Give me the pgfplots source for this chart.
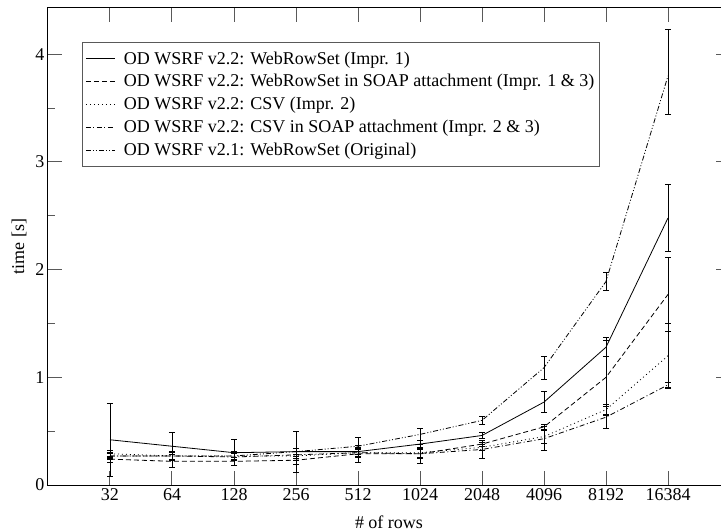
\documentclass[border=0pt]{standalone}
\usepackage{pgfplots}
\pgfplotsset{compat=1.18}
\usepackage{pgfplotstable}
\usepackage{fontspec}
\setmainfont{Liberation Serif}

\pgfplotstableread{
x y ep em
0 0.42 0.34 0.34
1 0.36 0.13 0.13
2 0.30 0.12 0.12
3 0.31 0.19 0.19
4 0.31 0.04 0.04
5 0.38 0.03 0.03
6 0.46 0.03 0.03
7 0.77 0.10 0.10
8 1.28 0.09 0.09
9 2.48 0.31 0.31
}\tA
\pgfplotstableread{
x y ep em
0 0.24 0.03 0.03
1 0.22 0.06 0.06
2 0.22 0.04 0.04
3 0.23 0.04 0.04
4 0.29 0.08 0.08
5 0.29 0.09 0.09
6 0.38 0.02 0.02
7 0.54 0.02 0.02
8 1.00 0.34 0.34
9 1.77 0.34 0.34
}\tB
\pgfplotstableread{
x y ep em
0 0.29 0.03 0.03
1 0.27 0.03 0.03
2 0.27 0.03 0.03
3 0.27 0.04 0.04
4 0.30 0.04 0.04
5 0.30 0.04 0.04
6 0.35 0.03 0.03
7 0.45 0.06 0.06
8 0.70 0.05 0.05
9 1.20 0.30 0.30
}\tC
\pgfplotstableread{
x y ep em
0 0.27 0.02 0.02
1 0.27 0.03 0.03
2 0.26 0.03 0.03
3 0.28 0.03 0.03
4 0.30 0.03 0.03
5 0.29 0.04 0.04
6 0.33 0.08 0.08
7 0.43 0.11 0.11
8 0.63 0.10 0.10
9 0.93 0.02 0.02
}\tD
\pgfplotstableread{
x y ep em
0 0.27 0.03 0.03
1 0.27 0.04 0.04
2 0.27 0.04 0.04
3 0.31 0.03 0.03
4 0.36 0.08 0.08
5 0.47 0.06 0.06
6 0.60 0.035 0.035
7 1.09 0.105 0.105
8 1.89 0.08 0.08
9 3.80 0.43 0.36
}\tE

\begin{document}
\begin{tikzpicture}
\begin{axis}[
  scale only axis, width=682pt, height=477pt,
  xmin=-1, xmax=10, ymin=0, ymax=4.43,
  xtick={0,...,9},
  xticklabels={32,64,128,256,512,1024,2048,4096,8192,16384},
  ytick={0,1,2,3,4},
  minor ytick={0.5,1.5,2.5,3.5},
  tick align=inside,
  major tick length=14pt, minor tick length=7pt,
  every tick/.style={black!65, line width=1pt},
  axis line style={line width=1pt},
  /pgf/number format/assume math mode=true,
  tick label style={font=\fontsize{18}{21.6}\selectfont},
  label style={font=\fontsize{18}{21.6}\selectfont},
  xlabel={\# of rows},
  ylabel={time [s]},
  xlabel style={at={(axis description cs:0.5,-0.0776)}, anchor=center},
  ylabel style={at={(axis description cs:-0.0425,0.5)}, anchor=center},
  legend style={at={(0.04985,0.9287)}, anchor=north west,
    draw=black!65, line width=1pt, fill=white,
    inner xsep=3pt, inner ysep=7pt, row sep=5pt, nodes={inner sep=0.2em},
    font=\fontsize{18}{21.6}\selectfont},
  legend cell align=left,
  legend image code/.code={%
    \path[draw=none, fill=none] (0pt,-2pt) rectangle (36pt,2pt);
    \draw[#1, line width=0.8pt] (0pt,0pt) -- (29pt,0pt);},
  error bars/error bar style={solid, black, line width=0.8pt},
  error bars/error mark options={solid, black, line width=0.8pt, mark size=3pt, rotate=90},
]
\addplot[black, line width=0.8pt, solid,
  error bars/.cd, y dir=both, y explicit]
  table[x=x, y=y, y error plus=ep, y error minus=em] {\tA};
\addlegendentry{OD WSRF v2.2: WebRowSet (Impr. 1)}
\addplot[black, line width=0.8pt, dash pattern=on 5pt off 3pt,
  error bars/.cd, y dir=both, y explicit]
  table[x=x, y=y, y error plus=ep, y error minus=em] {\tB};
\addlegendentry{OD WSRF v2.2: WebRowSet in SOAP attachment (Impr. 1 \& 3)}
\addplot[black, line width=0.8pt, dash pattern=on 1pt off 3pt,
  error bars/.cd, y dir=both, y explicit]
  table[x=x, y=y, y error plus=ep, y error minus=em] {\tC};
\addlegendentry{OD WSRF v2.2: CSV (Impr. 2)}
\addplot[black, line width=0.8pt, dash pattern=on 5pt off 2.5pt on 1pt off 2.5pt,
  error bars/.cd, y dir=both, y explicit]
  table[x=x, y=y, y error plus=ep, y error minus=em] {\tD};
\addlegendentry{OD WSRF v2.2: CSV in SOAP attachment (Impr. 2 \& 3)}
\addplot[black, line width=0.8pt, dash pattern=on 5pt off 2pt on 1pt off 2pt on 1pt off 2pt,
  error bars/.cd, y dir=both, y explicit]
  table[x=x, y=y, y error plus=ep, y error minus=em] {\tE};
\addlegendentry{OD WSRF v2.1: WebRowSet (Original)}
\end{axis}
\pgfresetboundingbox
\path ([shift={(-48pt,-46pt)}]current axis.south west) rectangle ([shift={(673pt,8pt)}]current axis.north west);
\end{tikzpicture}
\end{document}
